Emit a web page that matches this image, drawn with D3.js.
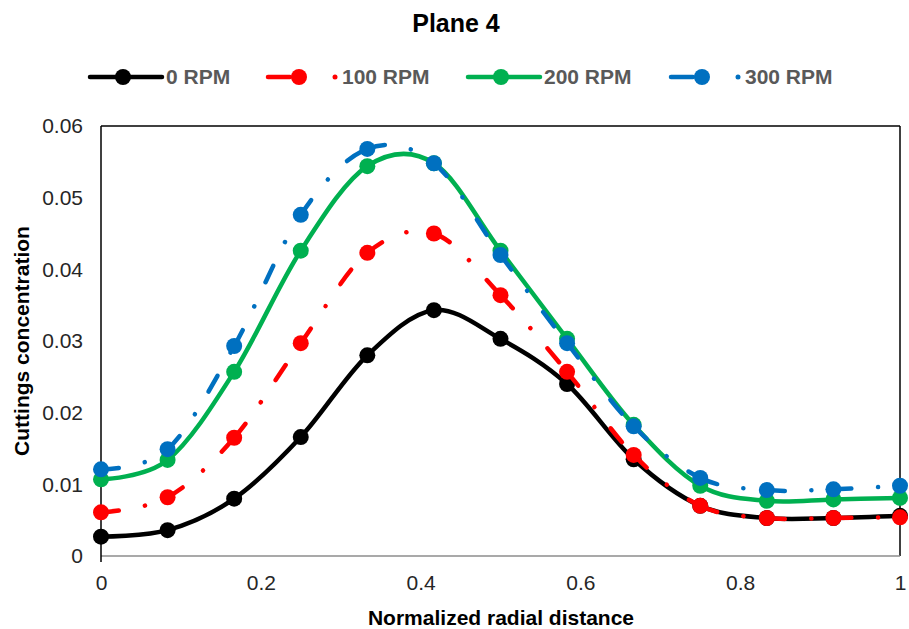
<!DOCTYPE html>
<html>
<head>
<meta charset="utf-8">
<script src="https://cdn.jsdelivr.net/npm/d3@7"></script>
<style>
    body { margin: 0; background: #fff; }
    text { font-family: "Liberation Sans", Arial, sans-serif; }
</style>
</head>
<body>
<div id="chart"></div>
<script>
// radial positions (normalized), 13 points
var radialDistance = [0, 1/12, 2/12, 3/12, 4/12, 5/12, 6/12, 7/12, 8/12, 9/12, 10/12, 11/12, 1];

var rpm0   = [0.0027, 0.0036, 0.0080, 0.0166, 0.0280, 0.0343, 0.0303, 0.0240, 0.0135, 0.0070, 0.0053, 0.0053, 0.0056];
var rpm100 = [0.0061, 0.0082, 0.0165, 0.0297, 0.0423, 0.0450, 0.0364, 0.0257, 0.0141, 0.0070, 0.0053, 0.0053, 0.0054];
var rpm200 = [0.0107, 0.0134, 0.0257, 0.0426, 0.0544, 0.0548, 0.0426, 0.0303, 0.0183, 0.0098, 0.0077, 0.0079, 0.0081];
var rpm300 = [0.0121, 0.0149, 0.0293, 0.0476, 0.0568, 0.0548, 0.0420, 0.0297, 0.0181, 0.0109, 0.0092, 0.0093, 0.0098];

var seriesNames = ["0 RPM", "100 RPM", "200 RPM", "300 RPM"];
var xTicks = [0, 0.2, 0.4, 0.6, 0.8, 1];
var yTicks = [0, 0.01, 0.02, 0.03, 0.04, 0.05, 0.06];

var series = [
    { name: seriesNames[0], values: rpm0,   color: "#000000", dashed: false },
    { name: seriesNames[1], values: rpm100, color: "#ff0000", dashed: true },
    { name: seriesNames[2], values: rpm200, color: "#00b050", dashed: false },
    { name: seriesNames[3], values: rpm300, color: "#0070c0", dashed: true }
];

var W = 909, H = 629;
var margin = { top: 126, right: 9, bottom: 73, left: 101 },
    width = W - margin.left - margin.right,
    height = H - margin.top - margin.bottom;

var svg = d3.select("#chart")
    .append("svg")
    .attr("width", W)
    .attr("height", H);

// title
svg.append("text")
    .attr("x", 456)
    .attr("y", 32)
    .attr("text-anchor", "middle")
    .style("font-size", "25px")
    .style("font-weight", "bold")
    .text("Plane 4");

var g = svg.append("g")
    .attr("transform", "translate(" + margin.left + "," + margin.top + ")");

var x = d3.scaleLinear().domain([0, 1]).range([0, width]);
var y = d3.scaleLinear().domain([0, 0.06]).range([height, 0]);

// frame
g.append("line").attr("x1", 0).attr("x2", width).attr("y1", 0).attr("y2", 0)
    .attr("stroke", "#000").attr("stroke-width", 1.5);
g.append("line").attr("x1", width).attr("x2", width).attr("y1", 0).attr("y2", height)
    .attr("stroke", "#000").attr("stroke-width", 1.5);
g.append("line").attr("x1", 0).attr("x2", width).attr("y1", height).attr("y2", height)
    .attr("stroke", "#8c8c8c").attr("stroke-width", 1.5);
g.append("line").attr("x1", 0).attr("x2", 0).attr("y1", 0).attr("y2", height + 6)
    .attr("stroke", "#000").attr("stroke-width", 1.5);

// x axis labels
var xAxis = g.append("g")
    .attr("transform", "translate(0," + height + ")")
    .call(d3.axisBottom(x).tickValues(xTicks).tickSize(0).tickPadding(19)
        .tickFormat(function (d) { return d3.format("")(d); }));
xAxis.select(".domain").remove();
xAxis.selectAll("text")
    .style("font-size", "21px")
    .style("font-family", "\"Liberation Sans\", Arial, sans-serif")
    .attr("fill", "#262626");

// y axis labels
var yAxis = g.append("g")
    .call(d3.axisLeft(y).tickValues(yTicks).tickSize(0).tickPadding(18)
        .tickFormat(function (d) { return d === 0 ? "0" : d3.format(".2f")(d); }));
yAxis.select(".domain").remove();
yAxis.selectAll("text")
    .style("font-size", "21px")
    .style("font-family", "\"Liberation Sans\", Arial, sans-serif")
    .attr("fill", "#262626");

// axis titles
svg.append("text")
    .attr("x", 501)
    .attr("y", 625)
    .attr("text-anchor", "middle")
    .style("font-size", "21px")
    .style("font-weight", "bold")
    .text("Normalized radial distance");

svg.append("text")
    .attr("transform", "translate(29,341) rotate(-90)")
    .attr("text-anchor", "middle")
    .style("font-size", "21px")
    .style("font-weight", "bold")
    .text("Cuttings concentration");

// smoothed lines
var line = d3.line()
    .x(function (d, i) { return x(radialDistance[i]); })
    .y(function (d) { return y(d); })
    .curve(d3.curveCardinal.tension(0));

// one bezier piece of the same cardinal curve, so the dash pattern
// can start over at every point (like the original)
function segment(values, i) {
    var n = values.length, k = 1 / 6;
    var px = function (j) { return x(radialDistance[j]); };
    var py = function (j) { return y(values[j]); };
    var c1x = px(i), c1y = py(i), c2x = px(i + 1), c2y = py(i + 1);
    if (i > 0) {
        c1x = px(i) + k * (px(i + 1) - px(i - 1));
        c1y = py(i) + k * (py(i + 1) - py(i - 1));
    }
    if (i + 2 < n) {
        c2x = px(i + 1) - k * (px(i + 2) - px(i));
        c2y = py(i + 1) - k * (py(i + 2) - py(i));
    }
    var p = d3.path();
    p.moveTo(px(i), py(i));
    p.bezierCurveTo(c1x, c1y, c2x, c2y, px(i + 1), py(i + 1));
    return p.toString();
}

series.forEach(function (s) {
    if (s.dashed) {
        g.append("g")
            .selectAll("path")
            .data(d3.range(s.values.length - 1))
            .enter()
            .append("path")
            .attr("fill", "none")
            .attr("stroke", s.color)
            .attr("stroke-width", 4.5)
            .attr("stroke-linecap", "round")
            .attr("stroke-dasharray", "18,26.5,0.1,26.5")
            .attr("d", function (i) { return segment(s.values, i); });
    } else {
        g.append("path")
            .datum(s.values)
            .attr("fill", "none")
            .attr("stroke", s.color)
            .attr("stroke-width", 4.5)
            .attr("d", line);
    }

    g.append("g")
        .selectAll("circle")
        .data(s.values)
        .enter()
        .append("circle")
        .attr("cx", function (d, i) { return x(radialDistance[i]); })
        .attr("cy", function (d) { return y(d); })
        .attr("r", 8)
        .attr("fill", s.color);
});

// legend
var legendX = [90, 266, 468, 669];
var legend = svg.append("g").attr("transform", "translate(0,77)");
series.forEach(function (s, i) {
    var lg = legend.append("g").attr("transform", "translate(" + legendX[i] + ",0)");
    if (s.dashed) {
        lg.append("line").attr("x1", 2).attr("x2", 24).attr("y1", 0).attr("y2", 0)
            .attr("stroke", s.color).attr("stroke-width", 4.5).attr("stroke-linecap", "round");
        lg.append("circle").attr("cx", 69).attr("cy", 0).attr("r", 2.5).attr("fill", s.color);
    } else {
        lg.append("line").attr("x1", 0).attr("x2", 72).attr("y1", 0).attr("y2", 0)
            .attr("stroke", s.color).attr("stroke-width", 4.5).attr("stroke-linecap", "round");
    }
    lg.append("circle").attr("cx", 33).attr("cy", 0).attr("r", 8).attr("fill", s.color);
    lg.append("text")
        .attr("x", 76)
        .attr("y", 7)
        .style("font-size", "21px")
        .style("font-weight", "bold")
        .attr("fill", "#595959")
        .text(s.name);
});
</script>
</body>
</html>
